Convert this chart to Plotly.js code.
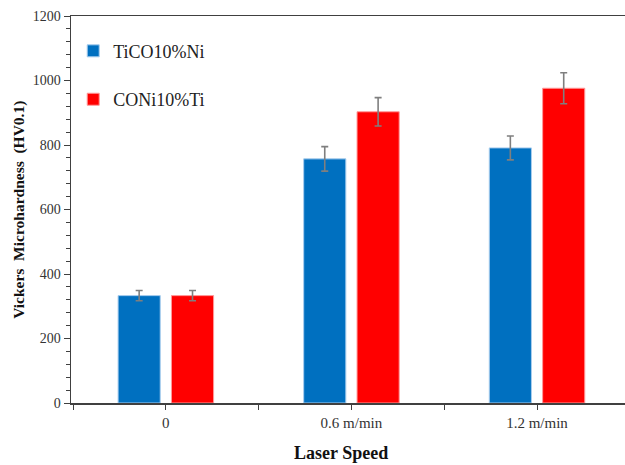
<!DOCTYPE html>
<html>
<head>
<meta charset="utf-8">
<script src="https://cdn.plot.ly/plotly-3.0.1.min.js"></script>
<style>
  html, body { margin: 0; padding: 0; background: #fff; }
  #chart { width: 625px; height: 465px; }
</style>
</head>
<body>
<div id="chart"></div>
<script>
// Laser speed groups
const categories = ['0', '0.6 m/min', '1.2 m/min'];

// Vickers microhardness (HV0.1) per alloy, with standard deviation
const seriesNames = ['TiCO10%Ni', 'CONi10%Ti'];
const ticoNi = [333, 757, 791];
const ticoNiErr = [16, 38, 37];
const coniTi = [333, 903, 976];
const coniTiErr = [16, 44, 48];

// Numeric positions of the groups so ticks can sit at centres and boundaries
const xPos = categories.map((_, i) => i);

const serif = 'Liberation Serif, Times New Roman, serif';
const errStyle = (vals) => ({
  type: 'data', array: vals, visible: true,
  color: '#7f7f7f', thickness: 1.6, width: 3.5
});

const traces = [
  {
    type: 'bar', name: seriesNames[0], x: xPos, y: ticoNi,
    error_y: errStyle(ticoNiErr),
    marker: { color: '#0070c0', line: { color: '#a8cdee', width: 1 } },
    legendgroup: 'a'
  },
  {
    type: 'bar', name: seriesNames[1], x: xPos, y: coniTi,
    error_y: errStyle(coniTiErr),
    marker: { color: '#ff0000', line: { color: '#ff9a9a', width: 1 } },
    legendgroup: 'b'
  }
];

const layout = {
  width: 625, height: 465,
  margin: { l: 71, r: 0, t: 16, b: 62 },
  paper_bgcolor: '#ffffff', plot_bgcolor: '#ffffff',
  barmode: 'group', bargap: 0.425, bargroupgap: 0.21,
  font: { family: serif, color: '#333333' },
  showlegend: true,
  legend: {
    x: 0.004, xanchor: 'left', y: 0.957, yanchor: 'top',
    font: { family: serif, size: 18, color: '#222222' },
    traceorder: 'grouped', tracegroupgap: 22,
    bgcolor: 'rgba(0,0,0,0)'
  },
  xaxis: {
    range: [-0.511, 2.474],
    tickmode: 'array', tickvals: xPos, ticktext: categories,
    ticks: 'outside', ticklen: 5, tickwidth: 1, tickcolor: '#404040',
    minor: { tick0: -0.5, dtick: 1, ticks: 'outside', ticklen: 5, tickwidth: 1, tickcolor: '#404040' },
    showline: true, linecolor: '#404040', linewidth: 1.5, mirror: true,
    showgrid: false, zeroline: false,
    tickfont: { family: serif, size: 15, color: '#333333' }
  },
  yaxis: {
    range: [0, 1200], dtick: 200,
    ticks: 'outside', ticklen: 6, tickwidth: 1, tickcolor: '#404040',
    minor: { dtick: 40, ticks: 'outside', ticklen: 4, tickwidth: 1, tickcolor: '#404040' },
    showline: true, linecolor: '#404040', linewidth: 1.5,
    showgrid: false, zeroline: false,
    tickfont: { family: serif, size: 14, color: '#333333' }
  },
  annotations: [
    {
      text: '<b>Vickers  Microhardness  (HV0.1)</b>',
      xref: 'paper', yref: 'paper', x: -0.095, y: 0.5,
      xanchor: 'center', yanchor: 'middle', textangle: -90, showarrow: false,
      font: { family: serif, size: 15.5, color: '#111111' }
    },
    {
      text: '<b>Laser Speed</b>',
      xref: 'paper', yref: 'paper', x: 0.487, y: -0.129,
      xanchor: 'center', yanchor: 'middle', showarrow: false,
      font: { family: serif, size: 18, color: '#111111' }
    }
  ]
};

Plotly.newPlot('chart', traces, layout, { displayModeBar: false, staticPlot: true });
</script>
</body>
</html>
